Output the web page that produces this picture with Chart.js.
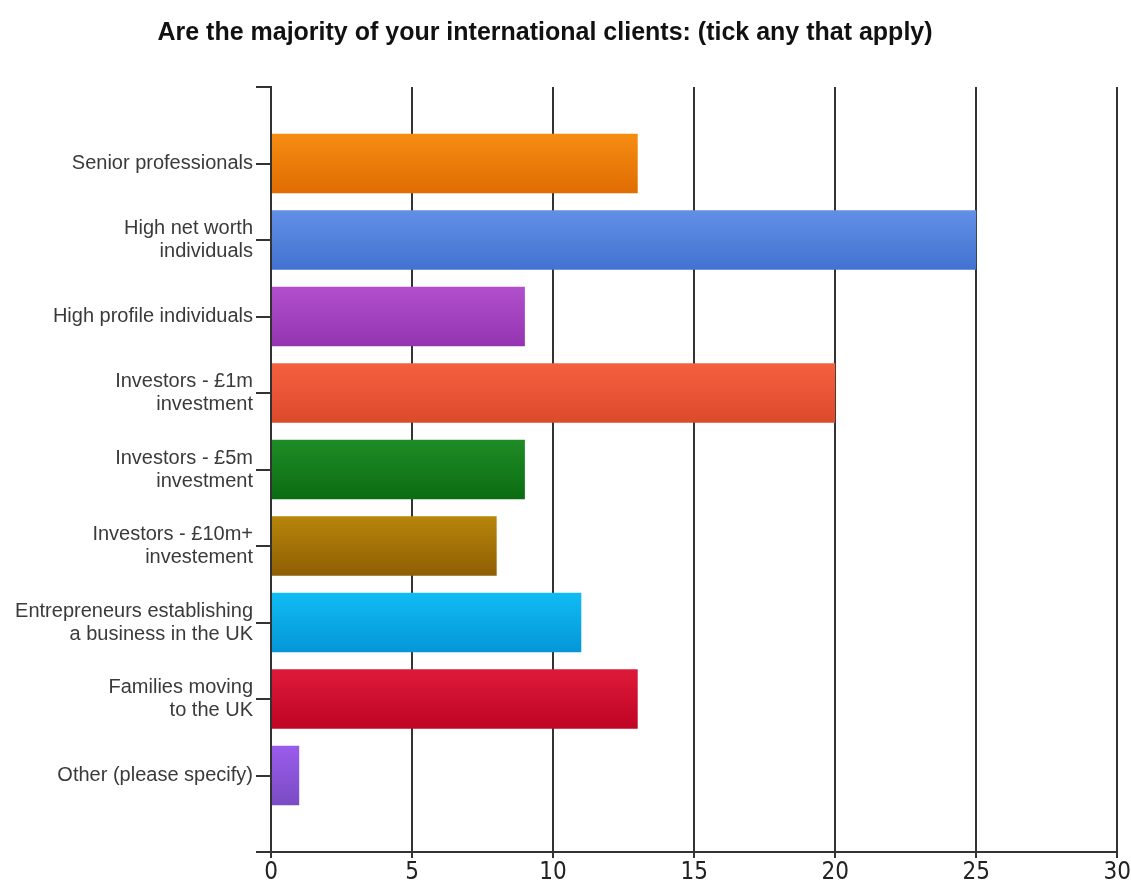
<!DOCTYPE html>
<html>
<head>
<meta charset="utf-8">
<script src="https://cdn.jsdelivr.net/npm/chart.js@4.4.1/dist/chart.umd.min.js"></script>
<style>
  html, body { margin: 0; padding: 0; background: #fff; }
  #wrap { width: 1131px; height: 886px; }
</style>
</head>
<body>
<div id="wrap"><canvas id="clientsChart"></canvas></div>
<script>
const chartTitle = 'Are the majority of your international clients: (tick any that apply)';
const categories = [
  'Senior professionals',
  ['High net worth', 'individuals'],
  'High profile individuals',
  ['Investors - £1m', 'investment'],
  ['Investors - £5m', 'investment'],
  ['Investors - £10m+', 'investement'],
  ['Entrepreneurs establishing', 'a business in the UK'],
  ['Families moving', 'to the UK'],
  'Other (please specify)'
];
const responses = [13, 25, 9, 20, 9, 8, 11, 13, 1];
const xTicks = [0, 5, 10, 15, 20, 25, 30];

// top / bottom shade of each bar
const barTop = ['#f68d12', '#6290e6', '#b250cc', '#f5603f', '#1f8c26', '#b8860a', '#10bcf5', '#de1a3a', '#9a5cec'];
const barBottom = ['#e06c02', '#4272d0', '#9434b0', '#dc4a2c', '#0b6c12', '#8e5e04', '#0596d6', '#bf0424', '#7a4cc4'];

// blank slot above and below the categories so the axis has a full gap at each end
const labels = [''].concat(categories, ['']);
const values = [null].concat(responses, [null]);

function barFill(ctx) {
  const i = ctx.dataIndex - 1;
  const chart = ctx.chart;
  if (i < 0 || i >= barTop.length) return '#999';
  const yScale = chart.scales.y;
  if (!chart.chartArea || !yScale) return barTop[i];
  const yc = yScale.getPixelForValue(ctx.dataIndex);
  const half = 30;
  const g = chart.ctx.createLinearGradient(0, yc - half, 0, yc + half);
  g.addColorStop(0, barTop[i]);
  g.addColorStop(1, barBottom[i]);
  return g;
}

// heading drawn by hand so it can sit a little left of the canvas centre
const headingPlugin = {
  id: 'heading',
  afterDraw(chart) {
    const c = chart.ctx;
    c.save();
    c.font = 'bold 25px "Liberation Sans", Arial, sans-serif';
    c.fillStyle = '#111';
    c.textAlign = 'center';
    c.textBaseline = 'middle';
    c.fillText(chartTitle, 545, 33);
    c.restore();
  }
};

const ink = '#333';

new Chart(document.getElementById('clientsChart'), {
  type: 'bar',
  data: {
    labels: labels,
    datasets: [{
      data: values,
      backgroundColor: barFill,
      borderWidth: 0,
      categoryPercentage: 1,
      barPercentage: 0.78
    }]
  },
  plugins: [headingPlugin],
  options: {
    indexAxis: 'y',
    responsive: true,
    maintainAspectRatio: false,
    animation: false,
    layout: { padding: { top: 87, right: 13, bottom: 0, left: 0 } },
    plugins: {
      legend: { display: false },
      tooltip: { enabled: false },
      title: { display: false }
    },
    scales: {
      x: {
        min: 0,
        max: 30,
        afterBuildTicks: (axis) => { axis.ticks = xTicks.map(v => ({ value: v })); },
        afterFit: (axis) => { axis.height = 34; },
        grid: { color: ink, lineWidth: 2, tickLength: 6 },
        border: { display: true, color: ink, width: 2 },
        ticks: {
          color: '#222',
          padding: 0,
          font: { family: '"DejaVu Sans Condensed", "Liberation Sans Narrow", sans-serif', size: 24 }
        }
      },
      y: {
        type: 'category',
        offset: false,
        afterFit: (axis) => { axis.width = 271; },
        grid: { offset: false, drawOnChartArea: false, color: ink, lineWidth: 2, tickLength: 15 },
        border: { display: true, color: ink, width: 2 },
        ticks: {
          autoSkip: false,
          color: '#3a3a3a',
          padding: 3,
          font: { family: '"Liberation Sans", Arial, sans-serif', size: 20, lineHeight: 1.15 }
        }
      }
    }
  }
});
</script>
</body>
</html>
